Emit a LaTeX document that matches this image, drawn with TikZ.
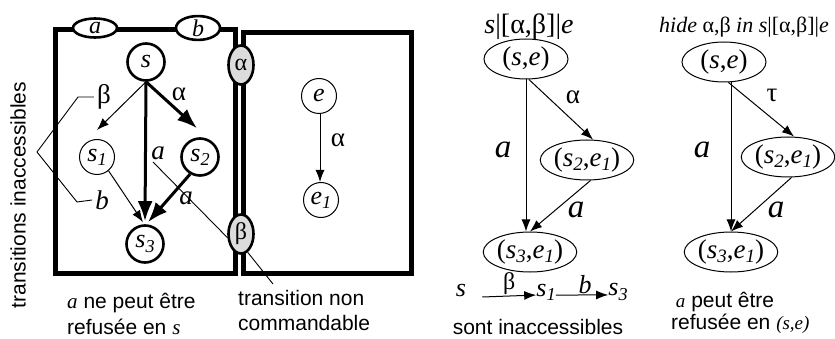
\documentclass[tikz,border=0pt]{standalone}
\usepackage{fontspec}
\setmainfont{Liberation Serif}
\newfontfamily\sansf{Liberation Sans}
\usetikzlibrary{arrows.meta,shapes.geometric}
\newcommand\fs[1]{\fontsize{#1}{#1}\selectfont}
\newcommand\sbs[2]{\textit{#1}\raisebox{-0.35ex}{\scalebox{0.7}{\textit{#2}}}}
\definecolor{gatefill}{HTML}{DCDCDC}
\tikzset{
  boxline/.style={line width=5pt},
  thickc/.style={circle, draw, line width=2.6pt, minimum size=37pt, inner sep=0pt, font=\fs{26}},
  thinc/.style={circle, draw, line width=1pt, minimum size=35pt, inner sep=0pt, font=\fs{26}},
  pair/.style={ellipse, draw, line width=1pt, minimum width=84pt, minimum height=40pt, inner sep=0pt, font=\fs{27}},
  gate/.style={ellipse, draw, line width=2.6pt, fill=gatefill, minimum width=25pt, minimum height=39pt, inner sep=0pt, font=\fs{24}},
  evt/.style={ellipse, draw, line width=2.6pt, fill=white, minimum width=44pt, minimum height=19pt, inner sep=0pt, font=\fs{24}\itshape},
  thinarr/.style={line width=1pt, -{Latex[length=12pt,width=9pt]}},
  thickarr/.style={line width=3pt, -{Latex[length=20pt,width=15pt]}},
  leader/.style={line width=0.9pt},
  elab/.style={inner sep=0pt, font=\fs{27}},
  alab/.style={inner sep=0pt, font=\fs{27}\itshape},
  biga/.style={inner sep=0pt, font=\fs{33}\itshape},
  txt/.style={inner sep=0pt, anchor=base west, font=\sansf\fs{21}},
}
\begin{document}
\begin{tikzpicture}[x=1pt,y=-1pt]
\useasboundingbox (0,0) rectangle (835,339);
\fill[white] (0,0) rectangle (835,339);

% boxes
\draw[boxline] (55.5,29.5) rectangle (235.5,273.5);
\draw[boxline] (243.5,32.5) rectangle (411.5,273.5);

\node[evt] (ea) at (95,28) {a};
\node[evt] (eb) at (198,28) {b};
\node[gate] (ga) at (241,65) {α};
\node[gate] (gb) at (241,234) {β};

% left process s
\node[thickc] (s) at (146,62) {\textit{s}};
\node[thinc] (s1) at (97,157) {\sbs{s}{1}};
\node[thickc] (s2) at (200,157) {\sbs{s}{2}};
\node[thickc] (s3) at (145,244) {\sbs{s}{3}};

\draw[thinarr] (s.south) -- ([yshift=9pt]s1.north);
\draw[thickarr] (s.south) -- ([yshift=9pt,xshift=-3pt]s2.north);
\draw[thickarr] (s.south) -- ([yshift=3pt]s3.north);
\draw[thickarr] (s2.240) -- ([yshift=2pt,xshift=3pt]s3.north);
\draw[thinarr] (s1.-50) -- ([yshift=2pt,xshift=-2pt]s3.north);

\node[elab] (lb) at (104,97) {β};
\node[elab] (la) at (179,94) {α};
\node[alab] (lsa) at (158,153) {a};
\node[alab] (lsb) at (102,200) {b};
\node[alab] (l2a) at (186,198) {a};

\coordinate (br) at (37,152);
\draw[leader] ([xshift=-3pt]lb.west) -- (78,97) -- (br) -- (77,202) -- ([xshift=-3pt]lsb.west);
\draw[leader] (153,162) -- (gb.195);

% right process e
\node[thinc] (e) at (319,96) {\textit{e}};
\node[thinc] (e1) at (321,200) {\sbs{e}{1}};
\draw[thinarr] (e.south -| 320,0) -- (e1.north -| 320,0);
\node[elab] (lea) at (338,140) {α};

% bottom-left texts
\node[txt] (t1) at (67,308) {{\rmfamily\itshape a} ne peut être};
\node[txt] (t2) at (67,334) {refusée en {\rmfamily\itshape s}};
\node[txt] (t3) at (238,305) {transition non};
\node[txt] (t4) at (238,330) {commandable};
\draw[leader] (gb.-70) -- (273,284);
\node[rotate=90, inner sep=0pt, font=\sansf\fs{21}] (tv) at (18,195) {transitions inaccessibles};

% middle graph
\node[inner sep=0pt, font=\fs{28}] (h1) at (529,27) {\textit{s}|[α,β]|\textit{e}};
\node[pair] (p1) at (526,59) {(\textit{s},\textit{e})};
\node[pair] (p2) at (587,160) {(\sbs{s}{2},\sbs{e}{1})};
\node[pair] (p3) at (530,252) {(\sbs{s}{3},\sbs{e}{1})};
\draw[thinarr] (p1.south) -- (p1.south |- p3.north);
\draw[thinarr] (p1.-82) -- ([xshift=6pt]p2.north);
\draw[thinarr] (p2.-80) -- (p3.north);
\node[biga] (m1) at (503,150) {a};
\node[elab] (m2) at (573,97) {α};
\node[biga] (m3) at (576,210) {a};

\node[inner sep=0pt, font=\fs{26}\itshape] (bs) at (461,291) {s};
\node[inner sep=0pt, font=\fs{26}] (bs1) at (546,292) {\sbs{s}{1}};
\node[inner sep=0pt, font=\fs{26}] (bs3) at (618,292) {\sbs{s}{3}};
\draw[thinarr] ([xshift=16pt]bs.base east) -- ([yshift=1pt]bs1.base west) node[midway, above=1pt, inner sep=0pt, font=\fs{24}] (bb) {β};
\draw[thinarr] ([yshift=1pt]bs1.base east) -- ([yshift=1pt]bs3.base west) node[midway, above=1pt, xshift=3pt, inner sep=0pt, font=\fs{26}\itshape] (bbb) {b};
\node[inner sep=0pt, font=\sansf\fs{21}] (t5) at (538,327) {sont inaccessibles};

% right graph
\node[inner sep=0pt, font=\fs{22}] (h2) at (744,27) {\textit{hide} α,β \textit{in} \textit{s}|[α,β]|\textit{e}};
\node[pair] (q1) at (724,62) {(\textit{s},\textit{e})};
\node[pair] (q2) at (788,157) {(\sbs{s}{2},\sbs{e}{1})};
\node[pair] (q3) at (731,252) {(\sbs{s}{3},\sbs{e}{1})};
\draw[thinarr] (q1.south -| q3.north) -- (q3.north);
\draw[thinarr] (q1.-78) -- ([xshift=6pt]q2.north);
\draw[thinarr] (q2.-80) -- (q3.north);
\node[elab] (r1) at (772,95) {τ};
\node[biga] (r2) at (702,150) {a};
\node[biga] (r3) at (776,210) {a};

\node[txt] (t6) at (671,307) {{\rmfamily\itshape\fs{19} a} peut être};
\node[txt] (t7) at (671,329) {refusée en {\rmfamily\itshape\fs{19}(s,e)}};
\end{tikzpicture}
\end{document}
